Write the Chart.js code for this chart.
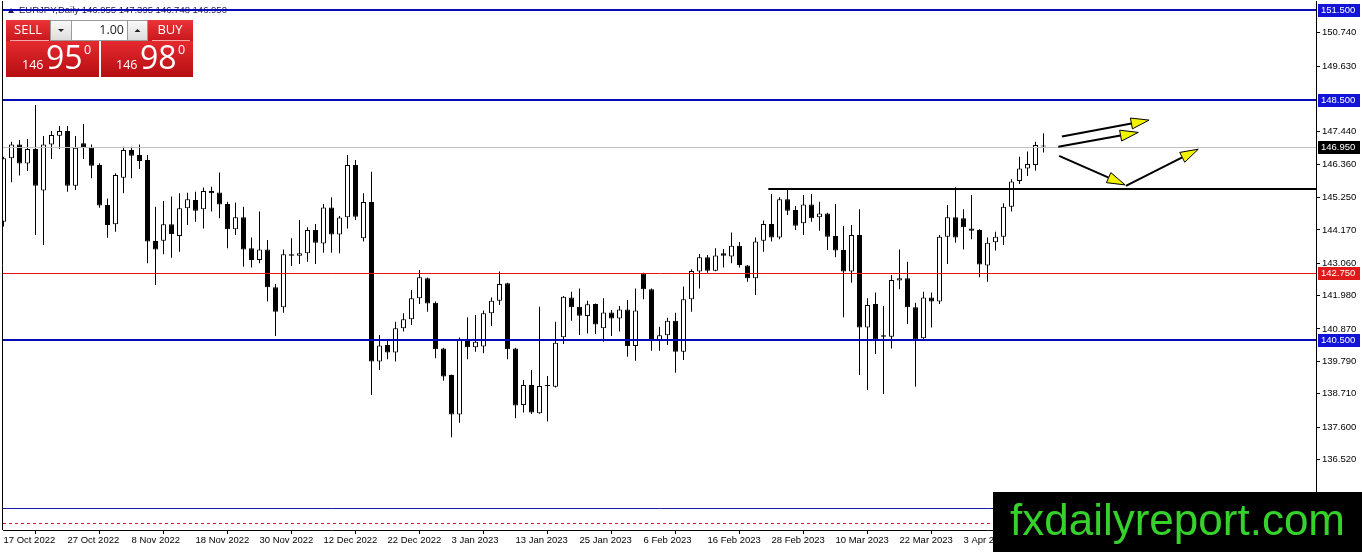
<!DOCTYPE html>
<html>
<head>
<meta charset="utf-8">
<title>EURJPY Daily</title>
<script src="https://cdn.jsdelivr.net/npm/chart.js@4.4.0/dist/chart.umd.min.js"></script>
<style>
  html, body { margin: 0; padding: 0; background: #fff; }
  #wrap { width: 1362px; height: 552px; position: relative; }
</style>
</head>
<body>
<div id="wrap"><canvas id="chart" width="1362" height="552"></canvas></div>
<script>
/* EURJPY daily candles, 17 Oct 2022 -> 17 Apr 2023 */
const opens = [
  144.44,146.56,147.02,146.38,146.87,145.48,147.02,147.31,147.47,145.64,
  147.06,146.91,146.33,145.00,144.36,145.91,146.83,146.67,146.50,143.80,
  143.81,144.36,143.97,144.89,145.17,144.86,145.47,145.42,145.03,144.19,
  144.59,143.56,143.17,143.52,142.26,141.59,143.36,143.31,143.39,144.17,
  143.72,144.92,144.02,144.59,146.33,143.89,145.10,139.78,140.33,140.08,
  140.89,141.19,141.89,142.56,141.74,140.22,139.33,138.02,140.52,140.26,
  140.28,141.39,141.81,142.39,140.22,138.33,139.00,138.06,138.97,138.94,
  140.59,141.92,141.61,141.30,141.70,140.89,141.42,141.22,141.52,140.30,
  142.72,142.19,140.48,140.66,141.14,140.11,141.86,142.78,143.26,142.81,
  143.39,143.28,143.64,142.98,142.56,143.81,144.37,143.92,145.19,144.83,
  144.39,145.02,144.59,144.72,143.97,143.50,142.78,144.00,140.92,141.70,
  140.66,140.61,142.48,142.56,141.59,140.56,141.92,141.78,143.94,144.59,
  144.56,144.22,144.17,142.98,143.76,143.94,144.94,145.80,146.22,146.33,
  146.955
];
const highs = [
  146.61,147.11,147.17,147.20,148.33,147.30,147.47,147.63,147.63,147.30,
  147.70,147.02,146.39,145.22,146.06,146.94,146.94,147.02,146.67,144.94,
  145.13,145.28,145.39,145.41,145.44,145.58,145.61,146.08,145.11,145.08,
  144.94,143.92,144.78,143.83,142.37,143.52,143.89,144.50,144.26,144.37,
  145.03,145.26,144.63,146.67,146.50,145.39,146.11,140.67,140.52,141.11,
  141.39,142.17,142.83,142.58,141.78,140.24,139.35,140.58,141.26,141.33,
  141.48,141.92,142.78,142.41,140.24,139.17,139.50,141.61,139.30,141.11,
  141.97,142.11,142.22,141.81,141.72,141.89,141.50,141.63,141.83,142.22,
  142.74,142.22,140.94,141.24,141.41,142.28,142.86,143.37,143.33,143.56,
  143.53,144.08,143.77,143.00,143.92,144.48,145.37,145.26,145.52,144.97,
  145.33,145.37,145.11,144.74,145.03,144.30,144.33,144.86,141.89,142.08,
  141.63,142.67,143.52,143.11,141.74,142.11,142.08,144.00,145.00,145.59,
  144.86,145.33,144.19,143.92,144.11,145.06,145.86,146.61,146.78,147.11,
  147.395
];
const lows = [
  144.28,145.76,145.98,146.13,144.00,143.67,146.53,146.87,145.44,145.50,
  146.53,145.89,144.91,143.91,144.11,145.39,145.89,146.20,143.06,142.33,
  143.36,143.24,143.44,144.33,144.44,144.22,144.78,144.56,143.56,144.00,
  142.94,142.92,143.06,141.78,140.63,141.41,142.97,143.03,143.11,143.03,
  143.41,143.41,143.39,144.22,144.50,143.78,138.67,139.50,139.86,139.78,
  140.78,141.00,141.70,141.44,139.89,139.14,137.26,137.74,139.86,140.11,
  140.06,140.97,141.67,139.86,137.89,138.08,138.03,138.04,137.78,138.92,
  140.37,141.14,140.67,140.72,140.70,140.44,140.63,140.78,139.94,139.81,
  141.86,140.14,140.14,140.33,139.41,139.83,141.44,142.22,142.74,142.79,
  142.92,143.06,142.92,142.44,142.00,143.44,143.78,143.86,144.67,144.17,
  144.00,144.44,144.14,143.50,143.26,141.26,142.41,139.33,138.83,140.03,
  138.70,140.22,142.19,141.03,138.94,140.48,140.92,141.70,143.03,143.74,
  143.52,143.86,142.59,142.44,143.48,143.67,144.78,145.70,145.97,146.14,
  146.748
];
const closes = [
  146.56,147.02,146.38,146.87,145.64,147.02,147.33,147.47,145.64,146.91,
  146.91,146.31,144.98,144.33,146.00,146.83,146.64,146.47,143.78,143.52,
  144.36,144.03,144.89,145.19,144.81,145.47,145.39,145.02,144.19,144.59,
  143.52,143.17,143.52,142.26,141.44,143.36,143.31,143.39,144.17,143.74,
  144.92,144.02,144.58,146.33,144.61,145.10,139.78,140.32,140.08,140.89,
  141.19,141.89,142.59,141.72,140.19,139.28,138.02,140.52,140.26,140.44,
  141.39,141.81,142.37,140.19,138.32,139.00,138.08,138.97,138.98,140.41,
  141.94,141.59,141.31,141.69,141.02,141.42,141.22,141.52,140.30,141.48,
  142.19,140.50,140.66,141.14,140.11,141.86,142.80,143.26,142.81,143.32,
  143.31,143.64,143.00,142.56,143.78,144.37,143.92,145.19,144.81,144.31,
  145.02,144.56,144.72,143.94,143.48,142.78,144.00,140.92,141.67,140.52,
  140.61,142.50,142.56,141.59,140.52,141.92,141.78,143.94,144.59,143.92,
  144.26,144.14,143.02,143.74,143.94,144.94,145.78,146.22,146.37,147.00,
  146.950
];

// bottom axis: one label every 8 bars
const dateTicks = [
  '17 Oct 2022','27 Oct 2022','8 Nov 2022','18 Nov 2022','30 Nov 2022','12 Dec 2022',
  '22 Dec 2022','3 Jan 2023','13 Jan 2023','25 Jan 2023','6 Feb 2023','16 Feb 2023',
  '28 Feb 2023','10 Mar 2023','22 Mar 2023','3 Apr 2023','13 Apr 2023'
];
const barsPerTick = 8;
// right axis
const priceTicks = [150.74,149.63,147.44,146.36,145.25,144.17,143.06,141.98,140.87,139.79,138.71,137.60,136.52];

// drawn objects (prices / bar indices)
const blueLevels = [151.5, 148.5, 140.5];
const redLevel = 142.75;
const lowBlueLevel = 134.89;
const dashedLevel = 134.41;
const supportLevel = 145.54;
const supportFrom = 95.6;
const askPrice = 146.980;
const arrowFrom = [[132.3,147.28],[131.85,146.94],[131.95,146.64],[140.3,145.64]];
const arrowTo   = [[143.2,147.83],[141.85,147.42],[140.2,145.67],[149.35,146.86]];

const FONT = '"Liberation Sans", Arial, sans-serif';
const last = closes.length - 1;
const idx = closes.map((_, i) => i);
const bull = idx.map(i => closes[i] >= opens[i]);

/* ── overlay drawing ──────────────────────────────────── */

function drawArrow(ctx, x0, y0, x1, y1) {
  const ang = Math.atan2(y1 - y0, x1 - x0);
  const len = 18, half = 5.5;
  const bx = x1 - Math.cos(ang) * len, by = y1 - Math.sin(ang) * len;
  ctx.strokeStyle = '#000';
  ctx.lineWidth = 2;
  ctx.beginPath(); ctx.moveTo(x0, y0); ctx.lineTo(bx, by); ctx.stroke();
  ctx.beginPath();
  ctx.moveTo(x1, y1);
  ctx.lineTo(bx - Math.sin(ang) * half, by + Math.cos(ang) * half);
  ctx.lineTo(bx + Math.sin(ang) * half, by - Math.cos(ang) * half);
  ctx.closePath();
  ctx.fillStyle = '#f2f200';
  ctx.fill();
  ctx.lineWidth = 1;
  ctx.stroke();
}

function hline(ctx, a, y, color, width, dash) {
  ctx.save();
  ctx.strokeStyle = color;
  ctx.lineWidth = width;
  ctx.setLineDash(dash || []);
  ctx.beginPath(); ctx.moveTo(a.left, y); ctx.lineTo(a.right, y); ctx.stroke();
  ctx.restore();
}

function drawPanel(ctx) {
  const grad = (y0, y1, c0, c1) => {
    const g = ctx.createLinearGradient(0, y0, 0, y1);
    g.addColorStop(0, c0); g.addColorStop(1, c1); return g;
  };
  // price boxes
  ctx.fillStyle = grad(41, 77, '#e52a2e', '#b50e13');
  ctx.fillRect(6, 41, 93, 36);
  ctx.fillRect(101, 41, 92, 36);
  // sell / buy buttons
  ctx.fillStyle = grad(20, 41, '#ea3438', '#c8181d');
  ctx.fillRect(6, 20, 44, 21);
  ctx.fillRect(148, 20, 45, 21);
  ctx.strokeStyle = 'rgba(255,200,200,0.8)';
  ctx.lineWidth = 1;
  ctx.beginPath();
  ctx.moveTo(10, 40.5); ctx.lineTo(49, 40.5);
  ctx.moveTo(152, 40.5); ctx.lineTo(190, 40.5);
  ctx.stroke();
  // lot spinner
  ctx.fillStyle = '#fff';
  ctx.fillRect(50, 20, 98, 21);
  ctx.fillStyle = grad(20, 41, '#fafafa', '#dcdcdc');
  ctx.fillRect(51, 21, 20, 19);
  ctx.fillRect(128, 21, 19, 19);
  ctx.strokeStyle = '#9a9a9a';
  ctx.strokeRect(50.5, 20.5, 97, 20);
  ctx.beginPath();
  ctx.moveTo(71.5, 21); ctx.lineTo(71.5, 40);
  ctx.moveTo(127.5, 21); ctx.lineTo(127.5, 40);
  ctx.stroke();
  ctx.fillStyle = '#222';
  ctx.beginPath(); ctx.moveTo(58, 29); ctx.lineTo(64, 29); ctx.lineTo(61, 32); ctx.fill();
  ctx.beginPath(); ctx.moveTo(134.5, 32); ctx.lineTo(140.5, 32); ctx.lineTo(137.5, 29); ctx.fill();
  ctx.font = '12.5px "Open Sans", ' + FONT;
  ctx.textBaseline = 'middle';
  ctx.textAlign = 'right';
  ctx.fillText('1.00', 124, 30.5);
  // labels
  ctx.fillStyle = '#fff';
  ctx.textAlign = 'center';
  ctx.font = '13px "Open Sans", ' + FONT;
  ctx.fillText('SELL', 28, 30.5);
  ctx.fillText('BUY', 170, 30.5);
  // prices
  const parts = p => { const s = p.toFixed(3); return [s.slice(0, 3), s.slice(4, 6), s.slice(6)]; };
  const put = (p, x0) => {
    const [big, pips, frac] = parts(p);
    ctx.textAlign = 'left';
    ctx.textBaseline = 'alphabetic';
    ctx.font = '12.5px "Open Sans", ' + FONT;
    ctx.fillText(big, x0, 69);
    ctx.font = '32px "Open Sans", ' + FONT;
    ctx.fillText(pips, x0 + 24, 69);
    ctx.font = '12.5px "Open Sans", ' + FONT;
    ctx.fillText(frac, x0 + 62, 54);
  };
  put(closes[last], 22);
  put(askPrice, 116);
}

const overlay = {
  id: 'overlay',
  afterDatasetsDraw(chart) {
    const { ctx, chartArea: a, scales: { x, y } } = chart;
    ctx.save();
    // title line
    ctx.fillStyle = '#1c1c5c';
    ctx.beginPath(); ctx.moveTo(8, 13); ctx.lineTo(14, 13); ctx.lineTo(11, 8); ctx.fill();
    ctx.font = '9.5px ' + FONT;
    ctx.textBaseline = 'middle';
    ctx.fillText('EURJPY,Daily ' + [opens[last], highs[last], lows[last], closes[last]]
      .map(v => v.toFixed(3)).join(' '), 19, 10.5);
    // horizontal levels
    hline(ctx, a, Math.round(y.getPixelForValue(closes[last])) + 0.5, '#c0c0c0', 1);
    hline(ctx, a, Math.round(y.getPixelForValue(redLevel)) + 0.5, '#e81010', 1);
    blueLevels.forEach(p => hline(ctx, a, Math.round(y.getPixelForValue(p)), '#0a0ab4', 2));
    hline(ctx, a, Math.round(y.getPixelForValue(lowBlueLevel)) + 0.5, '#1a1aa8', 1);
    hline(ctx, a, Math.round(y.getPixelForValue(dashedLevel)) + 0.5, '#e0103a', 1, [3, 3]);
    // support line
    const sy = Math.round(y.getPixelForValue(supportLevel));
    ctx.strokeStyle = '#000';
    ctx.lineWidth = 2;
    ctx.beginPath(); ctx.moveTo(x.getPixelForValue(supportFrom), sy); ctx.lineTo(a.right, sy); ctx.stroke();
    // arrows
    arrowFrom.forEach((f, k) => {
      const t = arrowTo[k];
      drawArrow(ctx, x.getPixelForValue(f[0]), y.getPixelForValue(f[1]),
                     x.getPixelForValue(t[0]), y.getPixelForValue(t[1]));
    });
    ctx.restore();
  },
  afterDraw(chart) {
    const { ctx, chartArea: a, scales: { y } } = chart;
    ctx.save();
    // left frame edge
    ctx.strokeStyle = '#000';
    ctx.lineWidth = 1;
    ctx.beginPath(); ctx.moveTo(2.5, a.top); ctx.lineTo(2.5, a.bottom); ctx.stroke();
    // price labels of the drawn levels
    const tag = (p, bg) => {
      const py = y.getPixelForValue(p);
      ctx.fillStyle = bg;
      ctx.fillRect(a.right + 2, Math.round(py) - 6, 42, 13);
      ctx.fillStyle = '#fff';
      ctx.font = '9.5px ' + FONT;
      ctx.textAlign = 'left';
      ctx.textBaseline = 'middle';
      ctx.fillText(p.toFixed(3), a.right + 5, py + 0.5);
    };
    blueLevels.forEach(p => tag(p, '#1414d8'));
    tag(redLevel, '#e01a1a');
    tag(closes[last], '#000');
    // trade panel
    drawPanel(ctx);
    // watermark
    ctx.fillStyle = '#000';
    ctx.fillRect(993, 492, 369, 60);
    ctx.fillStyle = '#36d22c';
    ctx.font = '44px ' + FONT;
    ctx.textAlign = 'left';
    ctx.textBaseline = 'alphabetic';
    ctx.fillText('fxdailyreport.com', 1010, 535);
    ctx.restore();
  }
};

/* ── chart ────────────────────────────────────────────── */

const wickData = idx.map(i => ({ x: i, y: [lows[i], highs[i]] }));
const bodyData = idx.map(i => ({ x: i, y: [Math.min(opens[i], closes[i]), Math.max(opens[i], closes[i])] }));

new Chart(document.getElementById('chart'), {
  type: 'bar',
  data: {
    datasets: [
      {
        label: 'body', data: bodyData, order: 0,
        backgroundColor: bull.map(b => b ? '#ffffff' : '#000000'),
        borderColor: '#000', borderWidth: 1, borderSkipped: false,
        barThickness: 5, minBarLength: 1, inflateAmount: 0, grouped: false,
      },
      {
        label: 'wick', data: wickData, order: 1,
        backgroundColor: '#000', borderWidth: 0,
        barThickness: 1, minBarLength: 1, inflateAmount: 0, grouped: false,
      },
    ],
  },
  options: {
    responsive: false,
    animation: false,
    devicePixelRatio: 1,
    events: [],
    layout: { padding: { left: 3, top: 1, right: 0, bottom: 0 } },
    plugins: { legend: { display: false }, tooltip: { enabled: false } },
    scales: {
      x: {
        type: 'linear', min: -0.0625, max: 164.0625, offset: false,
        grid: { drawOnChartArea: false, tickLength: 4, color: '#000' },
        border: { color: '#000' },
        afterBuildTicks: s => { s.ticks = dateTicks.map((_, k) => ({ value: k * barsPerTick })); },
        afterFit: s => { s.height = 22; s.paddingLeft = 0; s.paddingRight = 0; },
        ticks: {
          autoSkip: false, maxRotation: 0, align: 'start', padding: 1, color: '#000',
          font: { family: FONT, size: 9.5 },
          callback: v => dateTicks[Math.round(v / barsPerTick)],
        },
      },
      y: {
        type: 'linear', position: 'right', min: 134.1667, max: 151.8,
        grid: { drawOnChartArea: false, tickLength: 4, color: '#000' },
        border: { color: '#000' },
        afterBuildTicks: s => { s.ticks = priceTicks.map(v => ({ value: v })); },
        afterFit: s => { s.width = 46; s.paddingTop = 0; s.paddingBottom = 0; },
        ticks: {
          padding: 2, color: '#000',
          font: { family: FONT, size: 9.5 },
          callback: v => v.toFixed(3),
        },
      },
    },
  },
  plugins: [overlay],
});
</script>
</body>
</html>
